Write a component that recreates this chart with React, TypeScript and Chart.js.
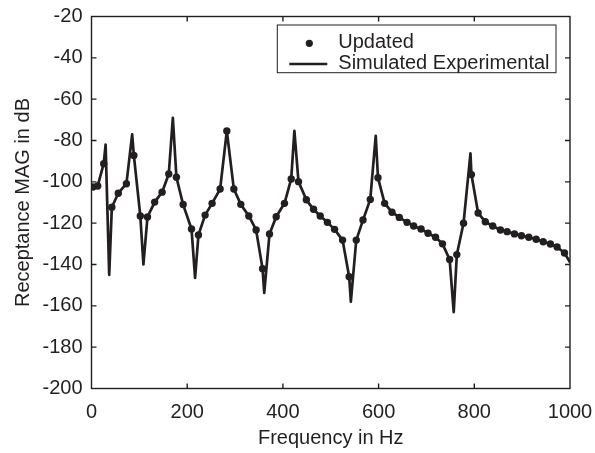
import React, { useEffect, useRef } from "react";
import { Chart, registerables } from "chart.js";

Chart.register(...registerables);

const INK = "#231f20";
const FONT = "'Liberation Sans', Arial, Helvetica, sans-serif";

const seriesLabels = ["Updated", "Simulated Experimental"];
const xTitle = "Frequency in Hz";
const yTitle = "Receptance MAG in dB";
const xTicks = [0, 200, 400, 600, 800, 1000];
const yTicks = [-20, -40, -60, -80, -100, -120, -140, -160, -180, -200];

// Updated model (dots)
const updatedFreq = [
  3, 13, 25.5, 42.5, 56, 73, 88.5, 102, 117, 132, 147.5, 161.5, 177.5, 191.5, 209, 223.5,
  237.4, 252, 268.8, 282.8, 297.5, 312, 328.8, 344, 357.5, 372, 386, 403.3, 417.4, 432.6,
  449, 464, 478, 493, 508, 524.7, 538.5, 553.3, 567.4, 582.6, 598.7, 612.6, 628, 643.3,
  659.4, 673.2, 688.7, 703.3, 719, 733.5, 748.5, 763.5, 777.5, 794, 808, 823, 838.5, 854.6,
  868.6, 883.9, 898.5, 913.8, 929.3, 944, 959, 973, 988.5,
];
const updatedMag = [
  -102.5, -102.0, -91.2, -112.3, -105.5, -100.9, -87.2, -116.5, -117.0, -109.8, -105.0, -96.2,
  -97.8, -111.0, -122.8, -125.7, -116.1, -110.4, -103.5, -75.4, -103.5, -110.9, -116.5, -123.3,
  -142.0, -125.2, -116.9, -110.4, -98.6, -99.9, -108.7, -113.3, -116.5, -119.6, -123.0, -128.2,
  -145.9, -128.2, -118.5, -108.5, -98.0, -110.4, -114.7, -117.2, -119.6, -121.4, -122.8, -124.9,
  -126.8, -130.0, -137.6, -135.2, -120.0, -96.5, -115.1, -119.3, -121.4, -123.3, -124.1, -125.2,
  -126.1, -126.8, -127.8, -129.0, -130.1, -131.5, -134.4,
];

// Simulated experimental FRF (line)
const simFreq = [
  0, 3, 13, 25.5, 29.5, 37, 42.5, 56, 73, 85, 88.5, 102, 108.5, 117, 132, 147.5, 161.5, 170,
  177.5, 191.5, 209, 216.5, 223.5, 237.4, 252, 268.8, 282.8, 297.5, 312, 328.8, 344, 357.5,
  361, 372, 386, 403.3, 417.4, 424, 432.6, 449, 464, 478, 493, 508, 524.7, 538.5, 542, 553.3,
  567.4, 582.6, 594, 598.7, 612.6, 628, 643.3, 659.4, 673.2, 688.7, 703.3, 719, 733.5, 748.5,
  757, 763.5, 777.5, 792, 794, 808, 823, 838.5, 854.6, 868.6, 883.9, 898.5, 913.8, 929.3, 944,
  959, 973, 988.5, 1000,
];
const simMag = [
  -102.7, -102.5, -102.0, -91.2, -82.0, -145.0, -112.3, -105.5, -100.9, -77.0, -87.2, -116.5,
  -140.0, -117.0, -109.8, -105.0, -96.2, -69.0, -97.8, -111.0, -122.8, -146.5, -125.7, -116.1,
  -110.4, -103.5, -75.4, -103.5, -110.9, -116.5, -123.3, -142.0, -153.7, -125.2, -116.9, -110.4,
  -98.6, -75.3, -99.9, -108.7, -113.3, -116.5, -119.6, -123.0, -128.2, -145.9, -158.0, -128.2,
  -118.5, -108.5, -77.7, -98.0, -110.4, -114.7, -117.2, -119.6, -121.4, -122.8, -124.9, -126.8,
  -130.0, -137.6, -163.0, -135.2, -120.0, -86.2, -96.5, -115.1, -119.3, -121.4, -123.3, -124.1,
  -125.2, -126.1, -126.8, -127.8, -129.0, -130.1, -131.5, -134.4, -139.0,
];

const framePlugin = {
  id: "frameAndLegend",
  afterDraw(chart: any) {
    const { ctx, chartArea: a, scales } = chart;
    ctx.save();
    ctx.strokeStyle = INK;
    ctx.lineWidth = 1.4;
    ctx.strokeRect(a.left, a.top, a.right - a.left, a.bottom - a.top);
    const L = 5;
    ctx.beginPath();
    scales.x.ticks.forEach((t: any) => {
      const px = scales.x.getPixelForValue(t.value);
      if (px <= a.left + 1 || px >= a.right - 1) return;
      ctx.moveTo(px, a.bottom);
      ctx.lineTo(px, a.bottom - L);
      ctx.moveTo(px, a.top);
      ctx.lineTo(px, a.top + L);
    });
    scales.y.ticks.forEach((t: any) => {
      const py = scales.y.getPixelForValue(t.value);
      if (py <= a.top + 1 || py >= a.bottom - 1) return;
      ctx.moveTo(a.left, py);
      ctx.lineTo(a.left + L, py);
      ctx.moveTo(a.right, py);
      ctx.lineTo(a.right - L, py);
    });
    ctx.stroke();

    // legend box
    const bw = 278.7;
    const bh = 47.7;
    const bx = a.right - 14 - bw;
    const by = a.top + 8.5;
    ctx.fillStyle = "#ffffff";
    ctx.fillRect(bx, by, bw, bh);
    ctx.lineWidth = 1;
    ctx.strokeRect(bx, by, bw, bh);
    const ds = chart.data.datasets;
    ctx.fillStyle = INK;
    ctx.beginPath();
    ctx.arc(bx + 32, by + 18.3, 3.6, 0, Math.PI * 2);
    ctx.fill();
    ctx.lineWidth = 2.7;
    ctx.beginPath();
    ctx.moveTo(bx + 12, by + 39);
    ctx.lineTo(bx + 50, by + 39);
    ctx.stroke();
    ctx.font = `20px ${FONT}`;
    ctx.textBaseline = "middle";
    ctx.textAlign = "left";
    ctx.fillText(ds[0].label, bx + 61, by + 17);
    ctx.fillText(ds[1].label, bx + 61, by + 38.5);
    ctx.restore();
  },
};

export default function App() {
  const ref = useRef<HTMLCanvasElement | null>(null);
  useEffect(() => {
    if (!ref.current) return;
    const chart = new Chart(ref.current, {
      type: "line",
      data: {
        datasets: [
          {
            label: seriesLabels[0],
            data: updatedFreq.map((f, i) => ({ x: f, y: updatedMag[i] })),
            showLine: false,
            pointRadius: 3.7,
            pointBackgroundColor: INK,
            pointBorderWidth: 0,
            borderColor: INK,
          },
          {
            label: seriesLabels[1],
            data: simFreq.map((f, i) => ({ x: f, y: simMag[i] })),
            borderColor: INK,
            borderWidth: 2.7,
            pointRadius: 0,
            tension: 0,
            borderJoinStyle: "round",
          },
        ],
      },
      options: {
        responsive: false,
        animation: false,
        events: [],
        layout: { padding: { top: 16.5, right: 25, bottom: 0, left: 0 } },
        plugins: { legend: { display: false }, tooltip: { enabled: false } },
        scales: {
          x: {
            type: "linear",
            min: 0,
            max: 1000,
            grid: { display: false, drawTicks: false },
            border: { display: false },
            afterBuildTicks: (s: any) => {
              s.ticks = xTicks.map((v) => ({ value: v }));
            },
            afterFit: (s: any) => {
              s.height = 64.5;
              s.paddingLeft = 0;
              s.paddingRight = 0;
            },
            ticks: {
              padding: 12,
              color: INK,
              font: { family: FONT, size: 20 },
              maxRotation: 0,
              callback: (v: any) => String(v),
            },
            title: {
              display: true,
              text: xTitle,
              color: INK,
              font: { family: FONT, size: 20 },
              padding: { top: 0, bottom: 3 },
            },
          },
          y: {
            type: "linear",
            min: -200,
            max: -20,
            grid: { display: false, drawTicks: false },
            border: { display: false },
            afterBuildTicks: (s: any) => {
              s.ticks = yTicks.map((v) => ({ value: v }));
            },
            afterFit: (s: any) => {
              s.width = 91.5;
              s.paddingTop = 0;
              s.paddingBottom = 0;
            },
            ticks: {
              padding: 9,
              color: INK,
              font: { family: FONT, size: 20 },
              callback: (v: any) => String(v),
            },
            title: {
              display: true,
              text: yTitle,
              color: INK,
              font: { family: FONT, size: 20 },
              padding: { top: 11, bottom: 0 },
            },
          },
        },
      },
      plugins: [framePlugin],
    });
    return () => chart.destroy();
  }, []);
  return (
    <div style={{ position: "absolute", left: 0, top: 0, width: 595, height: 453, background: "#fff" }}>
      <canvas ref={ref} width={595} height={453} style={{ display: "block" }} />
    </div>
  );
}
